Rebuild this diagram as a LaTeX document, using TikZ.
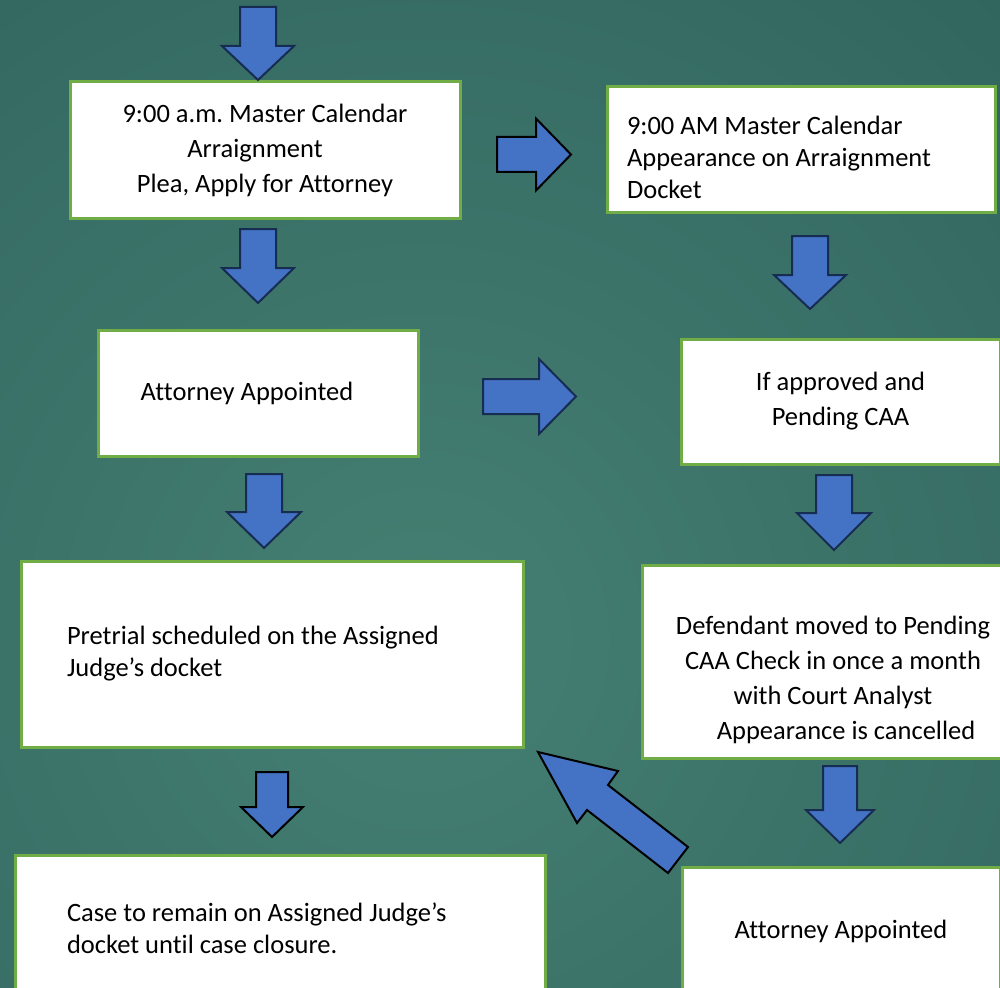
\documentclass[tikz,border=0pt]{standalone}
\usepackage{fontspec}
\setmainfont{Carlito}[Ligatures=NoCommon]
\frenchspacing
\definecolor{bgin}{HTML}{457F72}
\definecolor{bgout}{HTML}{1F4F4E}
\definecolor{boxgreen}{HTML}{70AD47}
\definecolor{arrowblue}{HTML}{4472C4}
\definecolor{arrownavy}{HTML}{172C51}
\newcommand\dnarrow[7]{%
  \draw[#7] ({#1-#5},#2) -- ({#1+#5},#2) -- ({#1+#5},#3) -- ({#1+#6},#3) -- (#1,#4) -- ({#1-#6},#3) -- ({#1-#5},#3) -- cycle;}
\newcommand\rtarrow[7]{%
  \draw[#7] (#2,{#1-#5}) -- (#3,{#1-#5}) -- (#3,{#1-#6}) -- (#4,#1) -- (#3,{#1+#6}) -- (#3,{#1+#5}) -- (#2,{#1+#5}) -- cycle;}
\begin{document}
\begin{tikzpicture}[x=1pt,y=-1pt,
  box/.style={draw=boxgreen, line width=3pt, fill=white, inner sep=0pt, text=black,
    font=\fontsize{26.5}{35}\selectfont},
  tight/.style={font=\fontsize{26.5}{32}\selectfont},
  barrow/.style={fill=arrowblue, draw=arrownavy, line width=2pt, line join=miter},
  karrow/.style={fill=arrowblue, draw=black, line width=2pt, line join=miter}]
\useasboundingbox (0,0) rectangle (1000,987);
\begin{scope}
  \clip (0,0) rectangle (1000,987);
  \shade[inner color=bgin, outer color=bgout] (420,640) circle (1650);
\end{scope}

\node[box, minimum width=390pt, minimum height=136pt, align=center] (b1) at (265,150)
  {\frenchspacing 9:00 a.m. Master Calendar\\Arraignment\rule{20pt}{0pt}\\ Plea, Apply for Attorney};
\node[box, tight, minimum width=388pt, minimum height=125pt, text width=348pt, align=flush left] (b2) at (801,149.5)
  {\rule{0pt}{35pt}9:00 AM Master Calendar\\Appearance on Arraignment\\Docket};
\node[box, minimum width=320pt, minimum height=126pt] (b3) at (258,393)
  {Attorney Appointed\hspace*{22pt}};
\node[box, minimum width=319pt, minimum height=125pt, align=center] (b4) at (840.5,401.5)
  {If approved and\\Pending CAA};
\node[box, tight, minimum width=502pt, minimum height=186pt, text width=410pt, align=flush left] (b5) at (272,654)
  {Pretrial scheduled on the Assigned\\Judge’s docket};
\node[box, minimum width=382pt, minimum height=193pt, align=center] (b6) at (833,661.5)
  {\rule{0pt}{55pt}Defendant moved to Pending\\CAA Check in once a month\\with Court Analyst\\\hspace*{26pt}Appearance is cancelled};
\node[box, tight, minimum width=530pt, minimum height=146pt, text width=426pt, align=flush left] (b7) at (280,928)
  {Case to remain on Assigned Judge’s\\docket until case closure.};
\node[box, minimum width=318pt, minimum height=128pt] (b8) at (841,931)
  {Attorney Appointed};

\dnarrow{258}{7}{46}{80}{18}{36}{barrow}
\dnarrow{258}{229}{268}{303}{18}{36}{barrow}
\dnarrow{810}{236}{275}{309}{18}{36}{barrow}
\dnarrow{264}{474}{512}{548}{18}{37}{barrow}
\dnarrow{834}{475}{513}{550}{18}{37}{barrow}
\dnarrow{272}{772}{807}{837}{16}{31}{karrow}
\dnarrow{840}{766}{810}{843}{17}{34}{barrow}
\rtarrow{154.5}{497}{536}{571}{17.5}{36}{karrow}
\rtarrow{396.5}{483}{539}{576}{17.5}{37.5}{barrow}
\draw[karrow] (538,752) -- (618,771) -- (608,785) -- (688,847) -- (668,873) -- (587,810) -- (577,823) -- cycle;
\end{tikzpicture}
\end{document}
